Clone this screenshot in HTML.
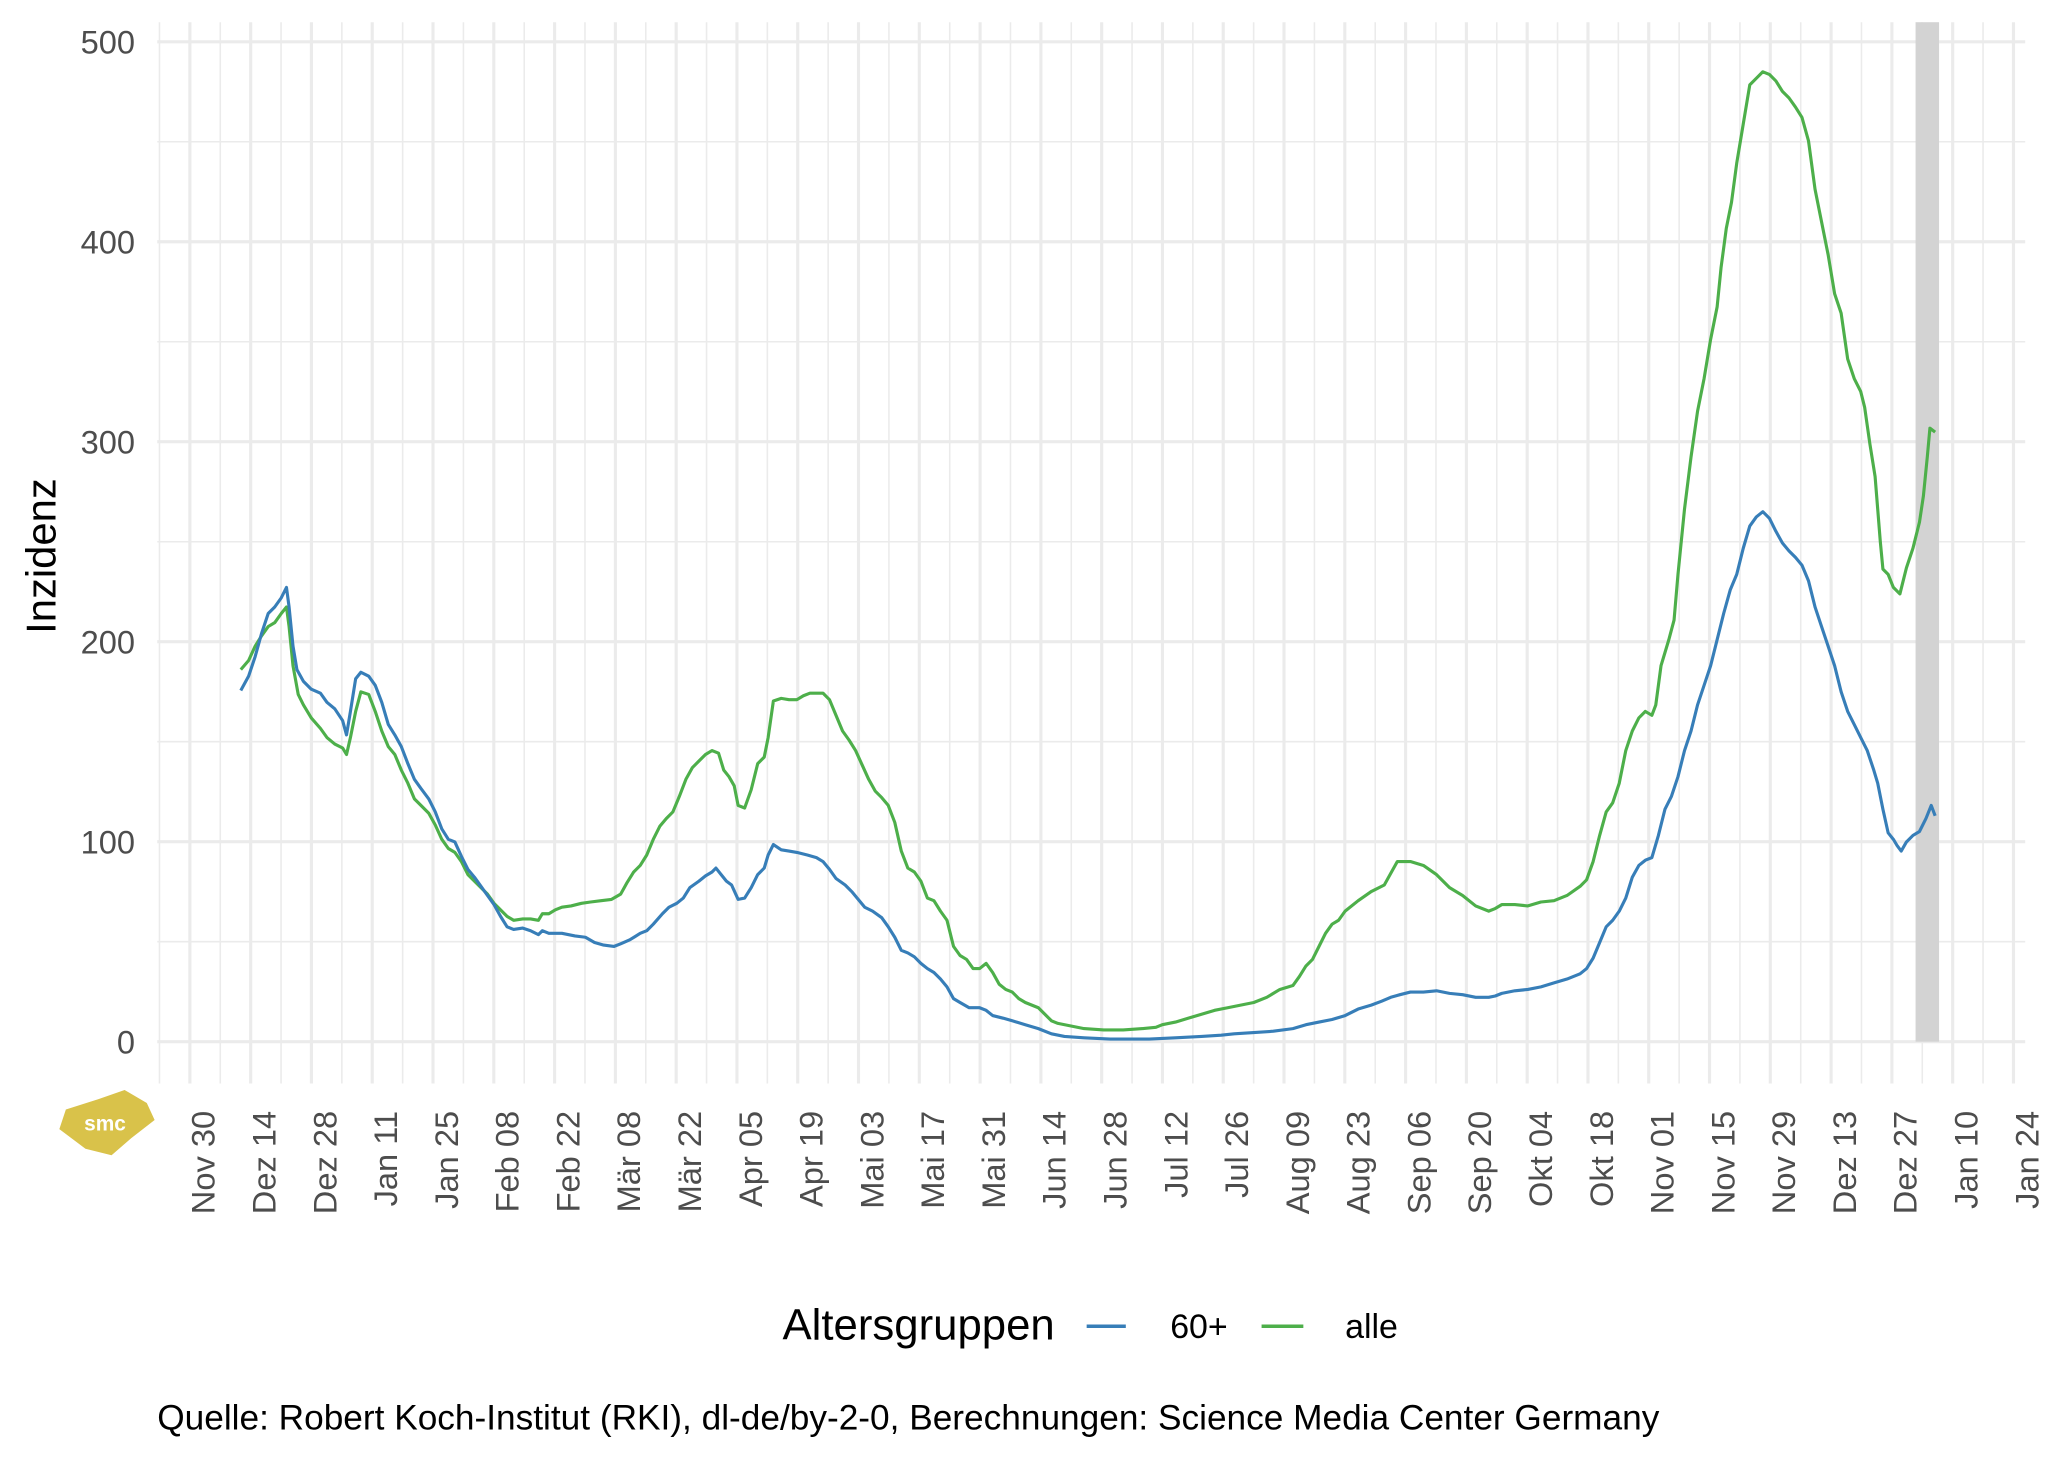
<!DOCTYPE html>
<html><head><meta charset="utf-8"><style>
html,body{margin:0;padding:0;background:#fff;}
svg{display:block;}
text{font-family:"Liberation Sans",sans-serif;}
</style></head><body>
<svg width="2048" height="1462" viewBox="0 0 1568 1120" xmlns="http://www.w3.org/2000/svg">
<rect width="1568" height="1120" fill="#fff"/>
<g id="grid"></g>
<rect x="1467" y="17" width="18" height="781" fill="#d3d3d3"/>
<polyline id="green" fill="none" stroke="#4daf4a" stroke-width="2.4" stroke-linejoin="round" points="184,513 190,506 195,495 200,487 205,480 210,477 215,470 219,465 221,480 224,510 228,532 232,540 238,550 245,558 250,565 256,570 262,573 265,578 268,565 272,545 276,530 282,532 287,545 292,560 297,572 302,578 307,590 312,600 317,612 322,617 328,623 333,632 338,643 343,650 348,653 353,660 358,670 363,675 368,680 373,685 378,692 383,697 388,702 393,705 400,704 406,704 412,705 415,700 420,700 425,697 430,695 437,694 445,692 452,691 460,690 468,689 475,685 480,676 485,668 490,663 495,655 500,643 505,633 510,627 515,622 520,610 525,597 530,588 535,583 540,578 545,575 550,577 554,590 558,595 562,602 565,617 570,619 575,605 580,585 585,580 588,565 592,537 598,535 604,536 610,536 615,533 620,531 630,531 635,536 640,548 645,560 650,567 655,575 660,586 665,597 670,606 675,611 680,617 685,630 690,652 695,665 700,668 705,675 710,688 715,690 720,698 725,705 730,725 735,732 740,735 745,742 750,742 755,738 760,745 765,754 770,758 775,760 780,765 785,768 790,770 795,772 800,777 805,782 810,784 820,786 830,788 845,789 860,789 875,788 885,787 890,785 900,783 910,780 920,777 930,774 940,772 950,770 960,768 970,764 980,758 990,755 995,748 1000,740 1005,735 1010,725 1015,715 1020,708 1025,705 1030,698 1040,690 1050,683 1060,678 1070,660 1075,660 1080,660 1090,663 1100,670 1110,680 1120,686 1130,694 1140,698 1145,696 1150,693 1160,693 1170,694 1180,691 1190,690 1200,686 1210,679 1215,674 1220,660 1225,640 1230,622 1235,615 1240,600 1245,575 1250,560 1255,550 1260,545 1265,548 1268,540 1272,510 1278,490 1282,475 1285,440 1290,390 1295,350 1300,315 1305,290 1310,260 1315,235 1318,205 1322,175 1326,155 1330,125 1335,95 1340,65 1345,60 1350,55 1355,57 1360,62 1365,70 1370,75 1375,82 1380,90 1385,108 1390,145 1395,170 1400,195 1405,225 1410,240 1415,275 1420,290 1425,300 1428,312 1432,340 1436,365 1440,415 1442,436 1446,440 1450,450 1455,455 1460,435 1465,420 1470,400 1473,380 1476,350 1478,328 1482,331"/>
<polyline id="blue" fill="none" stroke="#377eb8" stroke-width="2.4" stroke-linejoin="round" points="184,529 190,518 195,503 200,485 205,470 210,465 215,458 219,450 221,465 224,495 227,513 232,522 238,528 245,531 250,538 256,543 262,552 265,563 268,545 272,520 276,515 282,518 287,525 292,538 297,555 302,563 307,572 312,585 317,597 322,604 328,612 333,622 338,635 343,643 348,645 353,656 358,666 363,672 368,679 373,686 378,693 383,702 388,710 393,712 400,711 406,713 412,716 415,713 420,715 430,715 440,717 448,718 455,722 462,724 470,725 475,723 482,720 490,715 495,713 500,708 507,700 512,695 518,692 523,688 528,680 535,675 540,671 545,668 548,665 552,670 556,675 560,678 565,689 570,688 575,680 580,670 585,665 588,655 592,647 598,651 604,652 610,653 618,655 625,657 630,660 635,666 640,673 647,678 652,683 657,689 662,695 668,698 675,703 680,710 685,718 690,728 695,730 700,733 705,738 710,742 715,745 720,750 725,756 730,765 735,768 742,772 750,772 755,774 760,778 768,780 775,782 785,785 795,788 805,792 815,794 830,795 850,796 880,796 900,795 920,794 935,793 945,792 960,791 975,790 990,788 1000,785 1010,783 1020,781 1030,778 1040,773 1050,770 1058,767 1065,764 1072,762 1080,760 1090,760 1100,759 1110,761 1120,762 1130,764 1140,764 1145,763 1150,761 1160,759 1170,758 1180,756 1190,753 1200,750 1210,746 1215,742 1220,734 1225,722 1230,710 1235,705 1240,698 1245,688 1250,672 1255,663 1260,659 1265,657 1270,640 1275,620 1280,610 1285,595 1290,575 1295,560 1300,540 1305,525 1310,510 1315,490 1320,470 1325,452 1330,440 1335,420 1340,403 1345,396 1350,392 1355,397 1360,407 1365,416 1370,422 1375,427 1380,433 1385,445 1390,465 1395,480 1400,495 1405,510 1410,530 1415,545 1420,555 1425,565 1430,575 1435,590 1438,600 1442,620 1446,638 1450,643 1453,648 1456,652 1460,645 1465,640 1470,637 1475,627 1479,617 1482,625"/>
<g id="labels" font-size="25" fill="#4d4d4d"></g>
<text x="0" y="0" transform="translate(42,426) rotate(-90)" text-anchor="middle" font-size="32" fill="#000">Inzidenz</text>
<polygon points="50,850 75,842 95,835 112,845 118,858 100,872 85,885 65,880 45,865" fill="#d9c24a"/>
<text x="80" y="866" font-size="16" fill="#fff" text-anchor="middle" font-weight="bold">smc</text>
<text x="599" y="1026" font-size="33.5" fill="#000">Altersgruppen</text>
<line x1="832" y1="1016" x2="862" y2="1016" stroke="#377eb8" stroke-width="2.6"/>
<text x="896" y="1025" font-size="26" fill="#000">60+</text>
<line x1="966" y1="1016" x2="998" y2="1016" stroke="#4daf4a" stroke-width="2.6"/>
<text x="1030" y="1025" font-size="26" fill="#000">alle</text>
<text x="120" y="1095" font-size="27" fill="#000">Quelle: Robert Koch-Institut (RKI), dl-de/by-2-0, Berechnungen: Science Media Center Germany</text>
</svg>
<script>
const ns="http://www.w3.org/2000/svg";
const g=document.getElementById('grid'),L=document.getElementById('labels');
function ln(x1,y1,x2,y2,w){const l=document.createElementNS(ns,'line');l.setAttribute('x1',x1);l.setAttribute('y1',y1);l.setAttribute('x2',x2);l.setAttribute('y2',y2);l.setAttribute('stroke','#ebebeb');l.setAttribute('stroke-width',w);g.appendChild(l);}
const x0=120,x1=1551,yt=17,yb=830;
for(let v=0;v<=500;v+=50){const y=798-v*1.532;ln(x0,y,x1,y,v%100==0?2.4:1.2);
 if(v%100==0){const t=document.createElementNS(ns,'text');t.setAttribute('x',103);t.setAttribute('y',y+9);t.setAttribute('text-anchor','end');t.textContent=v;L.appendChild(t);}}
const labs=["Nov 30","Dez 14","Dez 28","Jan 11","Jan 25","Feb 08","Feb 22","Mär 08","Mär 22","Apr 05","Apr 19","Mai 03","Mai 17","Mai 31","Jun 14","Jun 28","Jul 12","Jul 26","Aug 09","Aug 23","Sep 06","Sep 20","Okt 04","Okt 18","Nov 01","Nov 15","Nov 29","Dez 13","Dez 27","Jan 10","Jan 24"];
const sp=(1542-145)/30;
for(let i=-1;i<31;i++){const x=145+i*sp;
 if(i>=0){ln(x,yt,x,yb,2.4);const t=document.createElementNS(ns,'text');t.setAttribute('x',0);t.setAttribute('y',0);t.setAttribute('text-anchor','end');t.setAttribute('transform','translate('+(x+19)+',851) rotate(-90)');t.textContent=labs[i];L.appendChild(t);}
 const xm=x+sp/2; if(xm>x0&&xm<x1) ln(xm,yt,xm,yb,1.2);}
</script>
</body></html>
